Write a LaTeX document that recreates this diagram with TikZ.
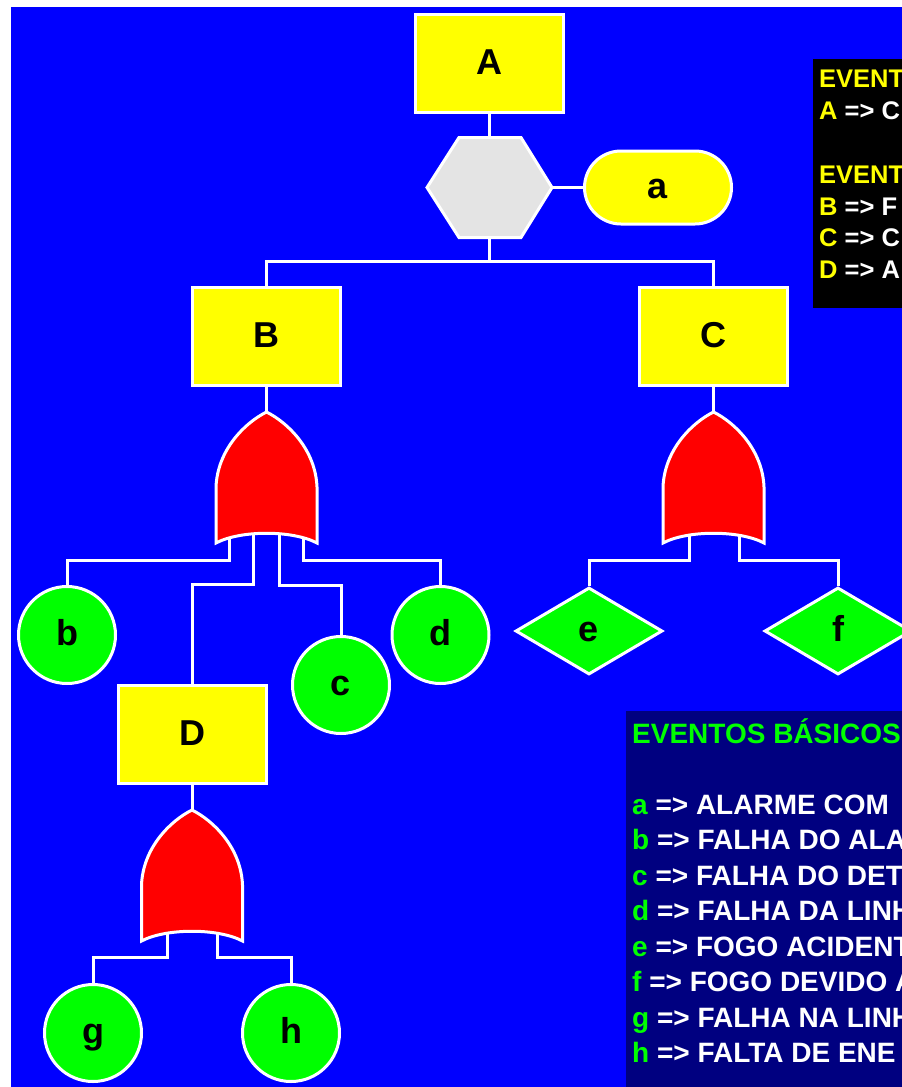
\documentclass[tikz,border=0pt]{standalone}
\usepackage{fontspec}
\setmainfont{Liberation Sans}
\usetikzlibrary{shapes.geometric,shapes.misc}

\definecolor{sky}{RGB}{0,0,255}
\definecolor{lemon}{RGB}{255,255,0}
\definecolor{lime}{RGB}{0,255,0}
\definecolor{navyblue}{RGB}{0,0,128}
\definecolor{hexgray}{RGB}{228,228,228}
\definecolor{gatered}{RGB}{255,0,0}

\pgfdeclarelayer{bg}
\pgfdeclarelayer{wires}
\pgfsetlayers{bg,wires,main}

\tikzset{
  outline/.style={draw=white, line width=3pt},
  wire/.style={draw=white, line width=3pt},
  % one common baseline for every event letter
  bigletter/.style={font=\bfseries\fontsize{36}{36}\selectfont, text=black,
    text height=21pt, text depth=0pt},
  evbox/.style={outline, rectangle, fill=lemon, minimum width=148pt,
    minimum height=98pt, inner sep=0pt, bigletter},
  basicev/.style={outline, circle, fill=lime, minimum size=97pt,
    inner sep=0pt, bigletter},
  undevev/.style={outline, diamond, fill=lime, minimum width=147pt,
    minimum height=87pt, inner sep=0pt, bigletter},
  condev/.style={outline, rounded rectangle, fill=lemon, minimum width=147pt,
    minimum height=73pt, inner sep=0pt, bigletter},
  hexframe/.style={rectangle, minimum width=125pt, minimum height=100pt,
    inner sep=0pt, outer sep=0pt},
  toptext/.style={anchor=base west, font=\bfseries\fontsize{25.5}{25.5}\selectfont, text=lemon, inner sep=0pt},
  basetext/.style={anchor=base west, font=\bfseries\fontsize{28}{28}\selectfont, text=lime, inner sep=0pt},
  % OR gate pointing up; (0,0) is the apex, y grows downwards
  orgate/.pic={
    \path[outline, fill=gatered]
      (0,0) .. controls (-22,11) and (-49,38) .. (-50.5,75)
      -- (-50.5,131) .. controls (-26,118) and (26,118) .. (50.5,131)
      -- (50.5,75) .. controls (49,38) and (22,11) .. cycle;
    \coordinate (-apex) at (0,0);
    \coordinate (-l2) at (-37.5,115);
    \coordinate (-l1) at (-13.5,115);
    \coordinate (-r1) at (12.5,115);
    \coordinate (-r2) at (36.5,115);
    \coordinate (-li) at (-24.5,115);
    \coordinate (-ri) at (25.5,115);
  },
}

\begin{document}
\begin{tikzpicture}[x=1pt, y=-1pt]
  \useasboundingbox (0,0) rectangle (902,1087);
  \clip (0,0) rectangle (902,1087);

  \begin{pgfonlayer}{bg}
    \fill[white] (0,0) rectangle (902,1087);
    \fill[sky] (11,7) rectangle (902,1087);
  \end{pgfonlayer}

  % legend boxes
  \fill[black] (813,59) rectangle (910,308);
  \fill[navyblue] (626,711) rectangle (910,1095);

  \node[toptext] (tt1) at (819,87) {EVENT};
  \node[toptext] (tt2) at (819,119) {A {\color{white}=> C}};
  \node[toptext] (tt3) at (819,183) {EVENT};
  \node[toptext] (tt4) at (819,215) {B {\color{white}=> F}};
  \node[toptext] (tt5) at (819,246) {C {\color{white}=> C}};
  \node[toptext] (tt6) at (819,278) {D {\color{white}=> A}};

  \node[basetext] (bt0) at (632,743) {EVENTOS BÁSICOS};
  \node[basetext] (bt1) at (632,814) {a {\color{white}=> ALARME COM}};
  \node[basetext] (bt2) at (632,849.5) {b {\color{white}=> FALHA DO ALA}};
  \node[basetext] (bt3) at (632,885) {c {\color{white}=> FALHA DO DET}};
  \node[basetext] (bt4) at (632,920.5) {d {\color{white}=> FALHA DA LINH}};
  \node[basetext] (bt5) at (632,956) {e {\color{white}=> FOGO ACIDENT}};
  \node[basetext] (bt6) at (632,991.5) {f {\color{white}=> FOGO DEVIDO A}};
  \node[basetext] (bt7) at (632,1027) {g {\color{white}=> FALHA NA LINH}};
  \node[basetext] (bt8) at (632,1062.5) {h {\color{white}=> FALTA DE ENE}};

  % events
  \node[evbox] (A) at (489.5,63.5) {A};
  \node[hexframe] (hex) at (489.5,187.5) {};
  \path[outline, fill=hexgray]
    (hex.west) -- ([xshift=32pt]hex.north west) -- ([xshift=-31pt]hex.north east)
    -- (hex.east) -- ([xshift=-31pt]hex.south east) -- ([xshift=32pt]hex.south west) -- cycle;
  \node[condev] (a) at (658,187.5) {a};

  \node[evbox] (B) at (266.5,336.5) {B};
  \node[evbox] (C) at (713.5,336.5) {C};
  \node[evbox] (D) at (192,734.5) {D};

  \pic (gB) at (266.5,412) {orgate};
  \pic (gC) at (713.5,412) {orgate};
  \pic (gD) at (192,810) {orgate};

  \node[basicev] (b) at (67,635) {b};
  \node[basicev] (c) at (341,685) {c};
  \node[basicev] (d) at (440.5,635) {d};
  \node[undevev] (e) at (589,631) {e};
  \node[undevev] (f) at (838,631) {f};
  \node[basicev] (g) at (93,1033) {g};
  \node[basicev] (h) at (291,1033) {h};

  % connectors
  \begin{pgfonlayer}{wires}
    \draw[wire] (A.south) -- (hex.north);
    \draw[wire] (hex.east) -- (a.west);
    \draw[wire] (hex.south) -- ++(0,24) coordinate (split);
    \draw[wire] (split) -| (B.north);
    \draw[wire] (split) -| (C.north);
    \draw[wire] (B.south) -- (gB-apex);
    \draw[wire] (C.south) -- (gC-apex);
    \draw[wire] (D.south) -- (gD-apex);

    \draw[wire] (gB-l2) |- ([yshift=25pt]b.north) -- (b.north);
    \draw[wire] (gB-l1) |- ([yshift=100pt]D.north) -- (D.north);
    \draw[wire] (gB-r1) |- ([yshift=50pt]c.north) -- (c.north);
    \draw[wire] (gB-r2) |- ([yshift=25pt]d.north) -- (d.north);

    \draw[wire] (gC-li) |- ([yshift=26pt]e.north) -- (e.north);
    \draw[wire] (gC-ri) |- ([yshift=26pt]f.north) -- (f.north);

    \draw[wire] (gD-li) |- ([yshift=26pt]g.north) -- (g.north);
    \draw[wire] (gD-ri) |- ([yshift=26pt]h.north) -- (h.north);
  \end{pgfonlayer}
\end{tikzpicture}
\end{document}
